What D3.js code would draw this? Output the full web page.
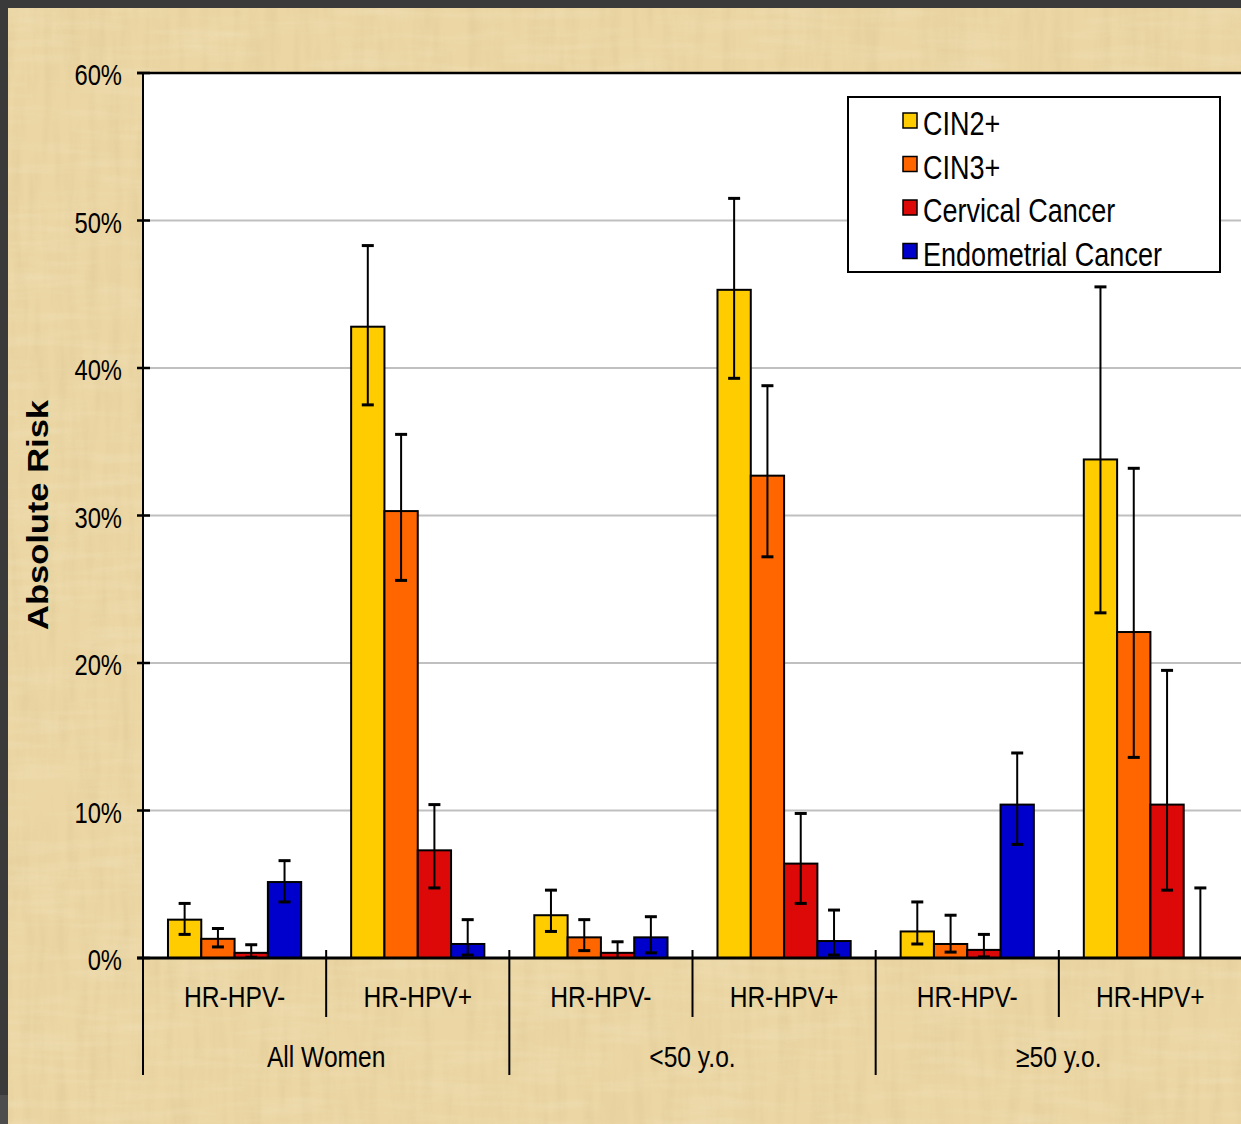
<!DOCTYPE html>
<html>
<head>
<meta charset="utf-8">
<script src="https://cdn.jsdelivr.net/npm/d3@7"></script>
<style>
  html, body { margin: 0; padding: 0; background: #3a3a3a; }
  svg { display: block; }
  .narrow { font-family: "Liberation Sans", Arial, sans-serif; }
</style>
</head>
<body>
<script>
const W = 1241, H = 1124;

// data (percent)
const groups = ['All Women', '<50 y.o.', '\u226550 y.o.'];
const hpvStatus = ['HR-HPV-', 'HR-HPV+'];
const series = ['CIN2+', 'CIN3+', 'Cervical Cancer', 'Endometrial Cancer'];
const seriesColors = ['#FFCC00', '#FF6600', '#DD0808', '#0000CC'];
const yTicks = [0, 10, 20, 30, 40, 50, 60];

const cin2 = [2.6, 42.8, 2.9, 45.3, 1.8, 33.8];
const cin2Lo = [1.6, 37.5, 1.8, 39.3, 0.95, 23.4];
const cin2Hi = [3.7, 48.3, 4.6, 51.5, 3.8, 45.5];
const cin3 = [1.3, 30.3, 1.4, 32.7, 0.95, 22.1];
const cin3Lo = [0.75, 25.6, 0.5, 27.2, 0.4, 13.6];
const cin3Hi = [2.0, 35.5, 2.6, 38.8, 2.9, 33.2];
const cervical = [0.35, 7.3, 0.35, 6.4, 0.55, 10.4];
const cervicalLo = [0.05, 4.75, 0.0, 3.7, 0.07, 4.6];
const cervicalHi = [0.9, 10.4, 1.1, 9.8, 1.6, 19.5];
const endometrial = [5.15, 0.95, 1.4, 1.15, 10.4, 0];
const endometrialLo = [3.8, 0.2, 0.35, 0.2, 7.7, 0];
const endometrialHi = [6.6, 2.6, 2.8, 3.25, 13.9, 4.75];

const values = [cin2, cin3, cervical, endometrial];
const lows = [cin2Lo, cin3Lo, cervicalLo, endometrialLo];
const highs = [cin2Hi, cin3Hi, cervicalHi, endometrialHi];

// category list: group x hpv status
const categories = [];
groups.forEach(g => hpvStatus.forEach(s => categories.push(g + '|' + s)));

const bars = [];
categories.forEach((c, ci) => {
  series.forEach((s, si) => {
    bars.push({cat: c, series: s, si, v: values[si][ci], lo: lows[si][ci], hi: highs[si][ci]});
  });
});

const plotLeft = 143, plotRight = 1242, plotTop = 73, plotBottom = 958;
const squeeze = 0.82; // arial-narrow look

const x0 = d3.scaleBand().domain(categories).range([plotLeft, plotRight]).padding(0);
const x1 = d3.scaleBand().domain(series).range([0, x0.bandwidth()])
  .paddingInner(0).paddingOuter(0.75);
const y = d3.scaleLinear().domain([0, 60]).range([plotBottom, plotTop]);
const color = d3.scaleOrdinal().domain(series).range(seriesColors);

const svg = d3.select('body').append('svg')
  .attr('width', W).attr('height', H);

function narrowText(parent, x, yy, str, size, anchor) {
  return parent.append('text')
    .attr('class', 'narrow')
    .attr('transform', `translate(${x},${yy}) scale(${squeeze},1)`)
    .attr('text-anchor', anchor || 'start')
    .attr('font-size', size)
    .attr('fill', '#000')
    .text(str);
}

// parchment texture
const defs = svg.append('defs');
const f1 = defs.append('filter').attr('id', 'paper').attr('x', 0).attr('y', 0)
  .attr('width', '100%').attr('height', '100%');
f1.append('feTurbulence').attr('type', 'fractalNoise')
  .attr('baseFrequency', '0.09 0.012').attr('numOctaves', 3).attr('seed', 4)
  .attr('result', 'n');
f1.append('feColorMatrix').attr('in', 'n').attr('type', 'matrix')
  .attr('values', '0 0 0 0 0.55  0 0 0 0 0.42  0 0 0 0 0.18  0 0 0 -0.9 0.55');
const f2 = defs.append('filter').attr('id', 'paper2').attr('x', 0).attr('y', 0)
  .attr('width', '100%').attr('height', '100%');
f2.append('feTurbulence').attr('type', 'fractalNoise')
  .attr('baseFrequency', '0.012 0.1').attr('numOctaves', 3).attr('seed', 9)
  .attr('result', 'n');
f2.append('feColorMatrix').attr('in', 'n').attr('type', 'matrix')
  .attr('values', '0 0 0 0 1  0 0 0 0 0.97  0 0 0 0 0.85  0 0 0 -0.9 0.5');

svg.append('rect').attr('x', 0).attr('y', 0).attr('width', W).attr('height', H)
  .attr('fill', '#3a3a3a');
svg.append('rect').attr('x', 0).attr('y', 1095).attr('width', 8).attr('height', H - 1095)
  .attr('fill', '#4d4d4d');
svg.append('rect').attr('x', 8).attr('y', 8).attr('width', W - 8).attr('height', H - 8)
  .attr('fill', '#EBD6A4');
svg.append('rect').attr('x', 8).attr('y', 8).attr('width', W - 8).attr('height', H - 8)
  .attr('filter', 'url(#paper)').attr('opacity', 0.3);
svg.append('rect').attr('x', 8).attr('y', 8).attr('width', W - 8).attr('height', H - 8)
  .attr('filter', 'url(#paper2)').attr('opacity', 0.35);

// plot area
svg.append('rect')
  .attr('x', plotLeft).attr('y', y(60)).attr('width', W - plotLeft + 10).attr('height', plotBottom - y(60))
  .attr('fill', '#fff');

svg.append('g').selectAll('line')
  .data(yTicks.filter(t => t > 0 && t < 60))
  .join('line')
    .attr('x1', plotLeft).attr('x2', W)
    .attr('y1', d => y(d)).attr('y2', d => y(d))
    .attr('stroke', '#c0c0c0').attr('stroke-width', 2);

svg.append('line')
  .attr('x1', plotLeft - 6).attr('x2', W).attr('y1', y(60)).attr('y2', y(60))
  .attr('stroke', '#000').attr('stroke-width', 2.5);

// bars
const barG = svg.append('g');
barG.selectAll('rect')
  .data(bars)
  .join('rect')
    .attr('x', d => x0(d.cat) + x1(d.series))
    .attr('y', d => y(d.v))
    .attr('width', x1.bandwidth())
    .attr('height', d => y(0) - y(d.v))
    .attr('fill', d => color(d.series))
    .attr('stroke', '#000').attr('stroke-width', 2);

// error bars
const errG = svg.append('g').attr('stroke', '#000').attr('stroke-width', 2);
bars.forEach(d => {
  const cx = x0(d.cat) + x1(d.series) + x1.bandwidth() / 2;
  errG.append('line').attr('x1', cx).attr('x2', cx).attr('y1', y(d.hi)).attr('y2', y(d.lo));
  errG.append('line').attr('x1', cx - 6).attr('x2', cx + 6).attr('y1', y(d.hi)).attr('y2', y(d.hi)).attr('stroke-width', 3);
  if (d.lo > 0) {
    errG.append('line').attr('x1', cx - 6).attr('x2', cx + 6).attr('y1', y(d.lo)).attr('y2', y(d.lo)).attr('stroke-width', 3);
  }
});

// y axis
const yAxis = svg.append('g');
yAxis.append('line').attr('x1', plotLeft).attr('x2', plotLeft).attr('y1', y(60)).attr('y2', 1075)
  .attr('stroke', '#000').attr('stroke-width', 2);
yAxis.selectAll('line.tick')
  .data(yTicks)
  .join('line')
    .attr('class', 'tick')
    .attr('x1', plotLeft - 6).attr('x2', plotLeft + 7)
    .attr('y1', d => y(d)).attr('y2', d => y(d))
    .attr('stroke', '#000').attr('stroke-width', 2.5);
yTicks.forEach(t => narrowText(yAxis, 122, y(t) + 12, t + '%', 29, 'end'));

svg.append('text')
  .attr('transform', 'translate(48,515) rotate(-90)')
  .attr('text-anchor', 'middle')
  .attr('font-family', '"Liberation Sans", Arial, sans-serif')
  .attr('font-weight', 'bold').attr('font-size', 29)
  .attr('textLength', 230).attr('lengthAdjust', 'spacingAndGlyphs')
  .text('Absolute Risk');

// x axis
const xAxis = svg.append('g');
xAxis.append('line').attr('x1', plotLeft - 6).attr('x2', W).attr('y1', y(0)).attr('y2', y(0))
  .attr('stroke', '#000').attr('stroke-width', 3);

categories.forEach((c, ci) => {
  const xs = x0(c);
  if (ci > 0) {
    const groupEdge = ci % hpvStatus.length === 0;
    xAxis.append('line').attr('x1', xs).attr('x2', xs)
      .attr('y1', y(0) - 8).attr('y2', groupEdge ? 1075 : 1017)
      .attr('stroke', '#000').attr('stroke-width', 2);
  }
  narrowText(xAxis, xs + x0.bandwidth() / 2, 1007, c.split('|')[1], 30, 'middle');
});

groups.forEach(g => {
  const a = x0(g + '|' + hpvStatus[0]);
  const b = x0(g + '|' + hpvStatus[hpvStatus.length - 1]) + x0.bandwidth();
  narrowText(xAxis, (a + b) / 2, 1067, g, 30, 'middle');
});

// legend
const legend = svg.append('g');
legend.append('rect')
  .attr('x', 848).attr('y', 97).attr('width', 372).attr('height', 175)
  .attr('fill', '#fff').attr('stroke', '#000').attr('stroke-width', 2);
series.forEach((s, i) => {
  const item = legend.append('g')
    .attr('transform', `translate(903,${135 + i * 43.5})`);
  item.append('rect')
    .attr('x', 0).attr('y', -22).attr('width', 14).attr('height', 15)
    .attr('fill', color(s)).attr('stroke', '#000').attr('stroke-width', 1.5);
  narrowText(item, 20, 0, s, 33, 'start');
});
</script>
</body>
</html>
